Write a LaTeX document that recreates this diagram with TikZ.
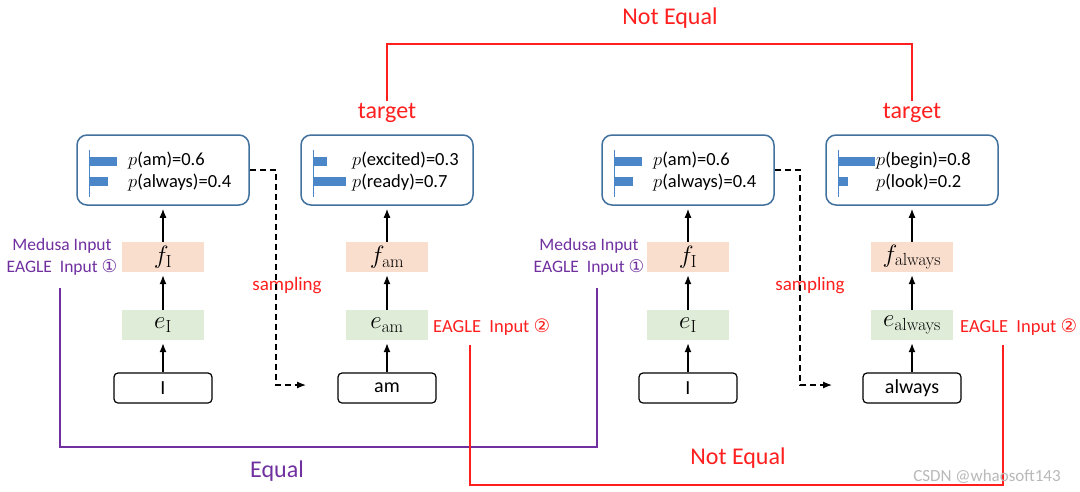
\documentclass[tikz,border=0pt]{standalone}
\usepackage{fix-cm}
\usepackage[no-math]{fontspec}
\setmainfont{Carlito}
\newfontfamily\circfont{DejaVu Sans}
\usetikzlibrary{arrows.meta}
\definecolor{boxblue}{HTML}{41719C}
\definecolor{barblue}{HTML}{4A86C8}
\definecolor{fpeach}{HTML}{F9DDCD}
\definecolor{egreen}{HTML}{DFEDD8}
\definecolor{eqpurple}{HTML}{7030A0}
\definecolor{neqred}{HTML}{FF1F1F}
\newcommand{\fsz}[2]{\fontsize{#1}{#2}\selectfont}
\tikzset{
  probbox/.style={draw=boxblue, line width=1.5pt, rounded corners=10pt,
    minimum width=172pt, minimum height=70pt},
  fbox/.style={fill=fpeach, minimum width=82pt, minimum height=30pt,
    inner sep=0pt, font=\fsz{25}{28}},
  ebox/.style={fill=egreen, minimum width=82pt, minimum height=30pt,
    inner sep=0pt, font=\fsz{25}{28}},
  tokbox/.style={draw, line width=1.2pt, rounded corners=4pt,
    minimum width=98pt, minimum height=30pt, inner sep=0pt, font=\fsz{20}{24}},
  problab/.style={anchor=west, inner sep=0pt, font=\fsz{18.5}{21}},
  biglab/.style={inner sep=2pt, font=\fsz{24}{28}},
  medlab/.style={text=eqpurple, align=center, inner sep=0pt, font=\fsz{17.5}{22}},
  eaglab/.style={text=neqred, anchor=west, inner sep=0pt, font=\fsz{18.5}{22}},
  samplab/.style={text=neqred, inner sep=0pt, font=\fsz{19}{22}},
  uparrow/.style={->, line width=1.3pt, shorten >=3pt},
  sampline/.style={->, line width=1.2pt, dash pattern=on 6pt off 4pt},
  redline/.style={draw=neqred, line width=2.2pt},
  purpline/.style={draw=eqpurple, line width=2.5pt}
}
\begin{document}
\begin{tikzpicture}[x=1pt, y=-1pt, >={Latex[length=9pt,width=7pt]}]
\path[use as bounding box, fill=white] (0,0) rectangle (1080,491);
% first step: I
\node[probbox] (p1) at (163,170) {};
\node[fbox] (f1) at (163,257) {$f_{\mathrm{I}}$};
\node[ebox] (e1) at (163,325) {$e_{\mathrm{I}}$};
\node[tokbox] (t1) at (163,388) {I};
\draw[barblue, line width=1pt] (89,150) -- (89,197);
\fill[barblue] (89,157) rectangle ++(28,9);
\fill[barblue] (89,177) rectangle ++(19,9);
\node[problab] (p1a) at (128,161) {$p$(am)=0.6};
\node[problab] (p1b) at (128,183) {$p$(always)=0.4};
\draw[uparrow] (t1.north) -- (e1.south);
\draw[uparrow] (e1.north) -- (f1.south);
\draw[uparrow] (f1.north) -- (p1.south);
% second step: am
\node[probbox] (p2) at (387,170) {};
\node[fbox] (f2) at (387,257) {$f_{\mathrm{am}}$};
\node[ebox] (e2) at (387,325) {$e_{\mathrm{am}}$};
\node[tokbox] (t2) at (387,388) {am};
\draw[barblue, line width=1pt] (313,150) -- (313,197);
\fill[barblue] (313,157) rectangle ++(14,9);
\fill[barblue] (313,177) rectangle ++(33,9);
\node[problab] (p2a) at (352,161) {$p$(excited)=0.3};
\node[problab] (p2b) at (352,183) {$p$(ready)=0.7};
\draw[uparrow] (t2.north) -- (e2.south);
\draw[uparrow] (e2.north) -- (f2.south);
\draw[uparrow] (f2.north) -- (p2.south);
% third step: I
\node[probbox] (p3) at (688,170) {};
\node[fbox] (f3) at (688,257) {$f_{\mathrm{I}}$};
\node[ebox] (e3) at (688,325) {$e_{\mathrm{I}}$};
\node[tokbox] (t3) at (688,388) {I};
\draw[barblue, line width=1pt] (614,150) -- (614,197);
\fill[barblue] (614,157) rectangle ++(28,9);
\fill[barblue] (614,177) rectangle ++(19,9);
\node[problab] (p3a) at (653,161) {$p$(am)=0.6};
\node[problab] (p3b) at (653,183) {$p$(always)=0.4};
\draw[uparrow] (t3.north) -- (e3.south);
\draw[uparrow] (e3.north) -- (f3.south);
\draw[uparrow] (f3.north) -- (p3.south);
% fourth step: always
\node[probbox] (p4) at (912,170) {};
\node[fbox] (f4) at (912,257) {$f_{\mathrm{always}}$};
\node[ebox] (e4) at (912,325) {$e_{\mathrm{always}}$};
\node[tokbox] (t4) at (912,388) {always};
\draw[barblue, line width=1pt] (838,150) -- (838,197);
\fill[barblue] (838,157) rectangle ++(37,9);
\fill[barblue] (838,177) rectangle ++(10,9);
\node[problab] (p4a) at (876,161) {$p$(begin)=0.8};
\node[problab] (p4b) at (876,183) {$p$(look)=0.2};
\draw[uparrow] (t4.north) -- (e4.south);
\draw[uparrow] (e4.north) -- (f4.south);
\draw[uparrow] (f4.north) -- (p4.south);
% sampling
\node[samplab] (samp1) at (287,286) {sampling};
\node[samplab] (samp3) at (810,286) {sampling};
\coordinate (s1) at (276,385);
\coordinate (s1end) at (306,385);
\coordinate (s3) at (800,385);
\coordinate (s3end) at (832,385);
\draw[sampline] (p1.east) -| (s1) -- (s1end);
\draw[sampline] (p3.east) -| (s3) -- (s3end);
% inputs
\node[medlab] (med1) at (62,257) {Medusa Input\\EAGLE\ \ Input {\circfont ①}};
\node[medlab] (med3) at (589,257) {Medusa Input\\EAGLE\ \ Input {\circfont ①}};
\node[eaglab] (eag2) at (433,327) {EAGLE\ \ Input {\circfont ②}};
\node[eaglab] (eag4) at (960,327) {EAGLE\ \ Input {\circfont ②}};
% comparisons
\node[biglab, text=neqred] (tgt2) at (387,113) {target};
\node[biglab, text=neqred] (tgt4) at (912,113) {target};
\node[biglab, text=neqred] (neqtop) at (670,18) {Not Equal};
\coordinate (topbar) at (650,44);
\draw[redline] (tgt2.north) |- (topbar) -| (tgt4.north);
\coordinate (eqL) at (60,288);
\coordinate (eqB) at (330,447);
\coordinate (eqR) at (597,288);
\draw[purpline] (eqL) |- (eqB) -| (eqR);
\node[biglab, text=eqpurple] (eq) at (277,471) {Equal};
\coordinate (neqL) at (470,345);
\coordinate (neqB) at (740,485);
\coordinate (neqR) at (1003,345);
\draw[redline] (neqL) |- (neqB) -| (neqR);
\node[biglab, text=neqred] (neqbot) at (738,458) {Not Equal};
\node[text=gray!55, inner sep=0pt, font=\fsz{17}{20}] (wm) at (987,477) {CSDN @whaosoft143};
\end{tikzpicture}
\end{document}
